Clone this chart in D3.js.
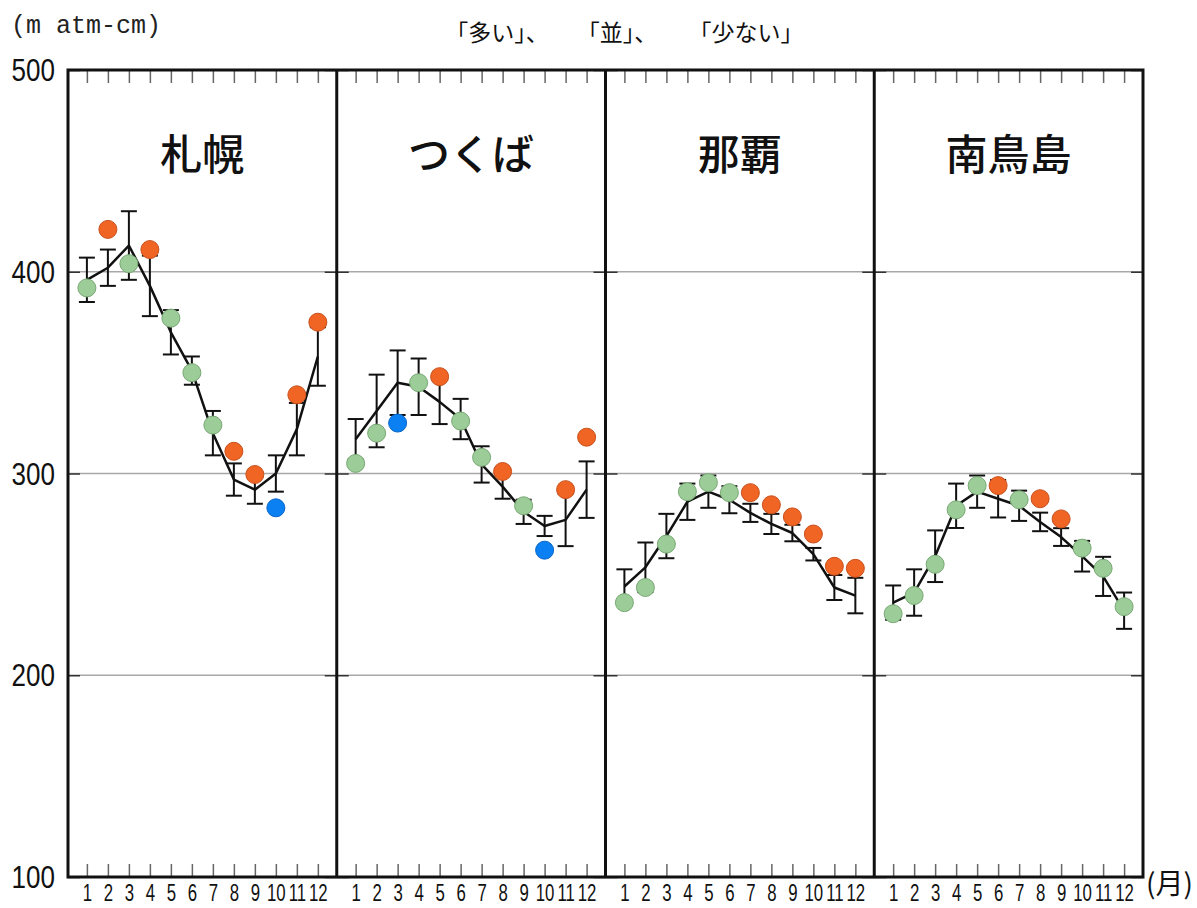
<!DOCTYPE html>
<html>
<head>
<meta charset="utf-8">
<script src="https://cdn.jsdelivr.net/npm/d3@7"></script>
<style>
  html, body { margin: 0; padding: 0; background: #fff; }
  svg { display: block; }
  .num { font-family: "Liberation Sans", Arial, sans-serif; }
  .jp { font-family: "Noto Sans CJK JP", "Noto Sans", sans-serif; }
</style>
</head>
<body>
<svg id="chart" width="1197" height="908"></svg>
<script>
// Monthly mean total ozone (m atm-cm): normal value, its spread, this year's value and its class
const stations = ["札幌", "つくば", "那覇", "南鳥島"];
const months = [1, 2, 3, 4, 5, 6, 7, 8, 9, 10, 11, 12];
const monthLabels = ["1", "2", "3", "4", "5", "6", "7", "8", "9", "10", "11", "12"];
const yTicks = [100, 200, 300, 400, 500];
const legendLabels = ["「多い」、", "「並」、", "「少ない」"];

const sapporoNormal = [396, 402, 413, 393, 370, 351, 320, 297, 292, 300, 322, 358];
const sapporoSd     = [11, 9, 17, 15, 11, 7, 11, 8, 7, 9, 13, 14.5];
const sapporoObs    = [392, 421, 404, 411, 377, 350, 324, 311, 299.5, 283, 339, 375];
const sapporoClass  = ["並", "多い", "並", "多い", "並", "並", "並", "多い", "多い", "少ない", "多い", "多い"];

const tsukubaNormal = [317, 331, 345, 343, 335.5, 327, 304.5, 293.5, 281, 274, 277, 292];
const tsukubaSd     = [10, 18, 16, 14, 11, 10, 9, 6, 6, 5, 13, 14];
const tsukubaObs    = [305, 320, 325, 345, 348, 326, 308, 301, 284, 262, 292, 318];
const tsukubaClass  = ["並", "並", "少ない", "並", "多い", "並", "並", "多い", "並", "少ない", "多い", "多い"];

const nahaNormal = [244, 253.5, 269, 286, 291, 287, 280.5, 275, 270.5, 260, 243.5, 239.5];
const nahaSd     = [8.5, 12.3, 11, 9, 8, 6.7, 4.5, 5, 4.1, 3.1, 6.2, 8.8];
const nahaObs    = [236, 243.5, 265, 291, 295.5, 290.5, 290.5, 284.5, 278.5, 270, 254, 253];
const nahaClass  = ["並", "並", "並", "並", "並", "並", "多い", "多い", "多い", "多い", "多い", "多い"];

const minamiNormal = [236, 241, 259, 284, 291, 287.5, 284, 276, 268.5, 259, 249, 232];
const minamiSd     = [8.5, 11.5, 12.8, 11, 8, 9.3, 7.5, 4.6, 4.4, 7.6, 9.7, 9];
const minamiObs    = [230.5, 239.5, 255, 282, 294, 294, 287, 287.5, 277.5, 263, 253, 234];
const minamiClass  = ["並", "並", "並", "並", "並", "多い", "並", "多い", "多い", "並", "並", "並"];

const classColor = { "多い": "#f06424", "並": "#9ccc98", "少ない": "#0a80f2" };
const classStroke = { "多い": "#c8501c", "並": "#78a874", "少ない": "#0a66c8" };

const panels = [
  { name: stations[0], normal: sapporoNormal, sd: sapporoSd, obs: sapporoObs, cls: sapporoClass },
  { name: stations[1], normal: tsukubaNormal, sd: tsukubaSd, obs: tsukubaObs, cls: tsukubaClass },
  { name: stations[2], normal: nahaNormal, sd: nahaSd, obs: nahaObs, cls: nahaClass },
  { name: stations[3], normal: minamiNormal, sd: minamiSd, obs: minamiObs, cls: minamiClass }
];

const svg = d3.select("#chart");
const plotLeft = 68, plotRight = 1143, plotTop = 70, plotBottom = 877;
const pw = (plotRight - plotLeft) / panels.length;

const y = d3.scaleLinear().domain([100, 500]).range([plotBottom, plotTop]);
const px = d3.scaleBand().domain(stations).range([plotLeft, plotRight]).padding(0);
const x = d3.scalePoint().domain(months).range([0, pw]).padding(0.9);

// horizontal grid
svg.append("g").selectAll("line")
  .data(yTicks.filter(v => v > 100 && v < 500))
  .join("line")
  .attr("x1", plotLeft).attr("x2", plotRight)
  .attr("y1", d => y(d)).attr("y2", d => y(d))
  .attr("stroke", "#a8a8a8").attr("stroke-width", 1.5);

// y tick labels (condensed digits)
svg.append("g").selectAll("text")
  .data(yTicks)
  .join("text")
  .attr("class", "num")
  .attr("transform", d => `translate(55,${y(d)}) scale(0.84,1)`)
  .attr("dy", "0.36em")
  .attr("text-anchor", "end")
  .attr("font-size", 31)
  .attr("fill", "#111")
  .text(d => d);

// unit label
svg.append("text")
  .attr("x", 11).attr("y", 33)
  .attr("font-family", "'Liberation Mono', 'DejaVu Sans Mono', monospace")
  .attr("font-size", 25)
  .attr("fill", "#222")
  .text("(m atm-cm)");

// legend labels (text only)
const legendX = [497, 617, 746];
svg.append("g").selectAll("text")
  .data(legendLabels)
  .join("text")
  .attr("class", "jp")
  .attr("x", (d, i) => legendX[i]).attr("y", 41)
  .attr("text-anchor", "middle")
  .attr("font-size", 23)
  .attr("fill", "#111")
  .text(d => d);

panels.forEach(p => {
  const g = svg.append("g").attr("transform", `translate(${px(p.name)},0)`);

  // month ticks, bottom (inward) with labels
  const bAxis = g.append("g")
    .attr("transform", `translate(0,${plotBottom})`)
    .call(d3.axisBottom(x).tickSize(-13).tickPadding(7).tickFormat((d, i) => monthLabels[i]));
  bAxis.select(".domain").remove();
  bAxis.selectAll("line").attr("stroke", "#666").attr("stroke-width", 1.5);
  bAxis.attr("font-family", null).attr("font-size", null);
  bAxis.selectAll("text")
    .attr("class", "num")
    .attr("font-size", 24)
    .attr("fill", "#111")
    .attr("transform", "scale(0.7,1)");

  // month ticks, top (inward)
  const tAxis = g.append("g")
    .attr("transform", `translate(0,${plotTop})`)
    .call(d3.axisTop(x).tickSize(-13).tickFormat(""));
  tAxis.select(".domain").remove();
  tAxis.selectAll("line").attr("stroke", "#666").attr("stroke-width", 1.5);

  // short value ticks on both panel edges
  const lAxis = g.append("g").call(d3.axisLeft(y).tickValues(yTicks).tickSize(-12).tickFormat(""));
  lAxis.select(".domain").remove();
  lAxis.selectAll("line").attr("stroke", "#333").attr("stroke-width", 1.5);
  const rAxis = g.append("g").attr("transform", `translate(${pw},0)`)
    .call(d3.axisRight(y).tickValues(yTicks).tickSize(-12).tickFormat(""));
  rAxis.select(".domain").remove();
  rAxis.selectAll("line").attr("stroke", "#333").attr("stroke-width", 1.5);

  // station name
  g.append("text")
    .attr("class", "jp")
    .attr("x", pw / 2).attr("y", 170)
    .attr("text-anchor", "middle")
    .attr("font-size", 42)
    .attr("font-weight", 500)
    .attr("fill", "#111")
    .text(p.name);

  const rows = months.map((m, i) => ({
    m, normal: p.normal[i], sd: p.sd[i], obs: p.obs[i], cls: p.cls[i]
  }));

  // normal value line
  g.append("path")
    .datum(rows)
    .attr("fill", "none")
    .attr("stroke", "#111")
    .attr("stroke-width", 2.5)
    .attr("stroke-linejoin", "round")
    .attr("d", d3.line().x(d => x(d.m)).y(d => y(d.normal)));

  // spread bars
  const eb = g.append("g").selectAll("g").data(rows).join("g")
    .attr("stroke", "#111").attr("stroke-width", 2);
  eb.append("line")
    .attr("x1", d => x(d.m)).attr("x2", d => x(d.m))
    .attr("y1", d => y(d.normal + d.sd)).attr("y2", d => y(d.normal - d.sd));
  eb.append("line")
    .attr("x1", d => x(d.m) - 8).attr("x2", d => x(d.m) + 8)
    .attr("y1", d => y(d.normal + d.sd)).attr("y2", d => y(d.normal + d.sd));
  eb.append("line")
    .attr("x1", d => x(d.m) - 8).attr("x2", d => x(d.m) + 8)
    .attr("y1", d => y(d.normal - d.sd)).attr("y2", d => y(d.normal - d.sd));

  // observed monthly values
  g.append("g").selectAll("circle").data(rows).join("circle")
    .attr("cx", d => x(d.m)).attr("cy", d => y(d.obs))
    .attr("r", 9)
    .attr("fill", d => classColor[d.cls])
    .attr("stroke", d => classStroke[d.cls])
    .attr("stroke-width", 1);
});

// frame and panel dividers
svg.append("rect")
  .attr("x", plotLeft).attr("y", plotTop)
  .attr("width", plotRight - plotLeft).attr("height", plotBottom - plotTop)
  .attr("fill", "none").attr("stroke", "#111").attr("stroke-width", 3);
svg.append("g").selectAll("line")
  .data(stations.slice(1))
  .join("line")
  .attr("x1", d => px(d)).attr("x2", d => px(d))
  .attr("y1", plotTop).attr("y2", plotBottom)
  .attr("stroke", "#111").attr("stroke-width", 3);

// month unit
svg.append("text")
  .attr("class", "jp")
  .attr("x", 1146).attr("y", 894)
  .attr("font-size", 28)
  .attr("fill", "#111")
  .text("(月)");
</script>
</body>
</html>
